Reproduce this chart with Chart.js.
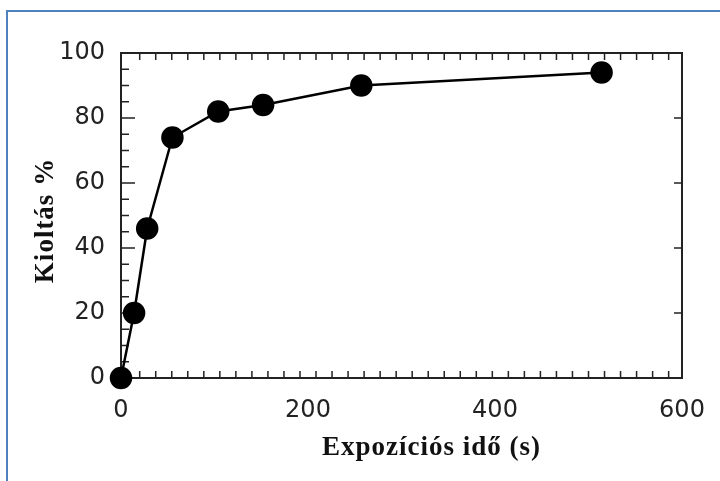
<!DOCTYPE html>
<html>
<head>
<meta charset="utf-8">
<script src="https://cdn.jsdelivr.net/npm/chart.js@4.4.1/dist/chart.umd.min.js"></script>
<style>
    html, body { margin: 0; padding: 0; background: #fff; overflow: hidden; }
    #frame {
        position: absolute; left: 6px; top: 10px; width: 800px; height: 600px;
        border-left: 2px solid #4f81bd; border-top: 2px solid #4f81bd;
    }
    #chart { position: absolute; left: 0; top: 0; }
</style>
</head>
<body>
<div id="frame"></div>
<canvas id="chart" width="720" height="481"></canvas>
<script>
// Data
var idok = [0, 14, 28, 55, 104, 152, 257, 514];      // Expozíciós idő (s)
var kioltas = [0, 20, 46, 74, 82, 84, 90, 94];       // Kioltás %
var xTicks = [0, 200, 400, 600];
var yTicks = [0, 20, 40, 60, 80, 100];

var xTitle = 'Expozíciós idő (s)';
var yTitle = 'Kioltás %';

var tickFont = { family: '"DejaVu Sans", sans-serif', size: 24 };
var tickColor = '#222';

// frame + inward tick marks, drawn through the scales
var frameTicks = {
    id: 'frameTicks',
    beforeDatasetsDraw: function (chart) {
        var ctx = chart.ctx, a = chart.chartArea;
        var xs = chart.scales.x, ys = chart.scales.y;
        ctx.save();
        ctx.strokeStyle = '#222';
        ctx.lineWidth = 1.5;
        ctx.beginPath();
        // bottom / top minor ticks
        for (var v = 20; v < 600; v += 600 / 35) {
            var px = xs.getPixelForValue(v);
            ctx.moveTo(px, a.bottom); ctx.lineTo(px, a.bottom - 7);
            ctx.moveTo(px, a.top); ctx.lineTo(px, a.top + 7);
        }
        // left ticks: minor every 5, major every 20
        for (var y = 5; y < 100; y += 5) {
            var py = ys.getPixelForValue(y);
            var len = (y % 20 === 0) ? 14 : 8;
            ctx.moveTo(a.left, py); ctx.lineTo(a.left + len, py);
            if (y % 20 === 0) {
                ctx.moveTo(a.right, py); ctx.lineTo(a.right - 8, py);
            }
        }
        ctx.stroke();
        ctx.lineWidth = 2;
        ctx.strokeRect(a.left, a.top, a.right - a.left, a.bottom - a.top);
        ctx.restore();
    },
    afterDraw: function (chart) {
        var ctx = chart.ctx, a = chart.chartArea;
        ctx.save();
        ctx.fillStyle = '#111';
        ctx.font = 'bold 27px "Liberation Serif", serif';
        ctx.letterSpacing = '1px';
        ctx.textAlign = 'center';
        ctx.textBaseline = 'alphabetic';
        ctx.fillText(xTitle, (a.left + a.right) / 2 + 30, a.bottom + 77);
        ctx.translate(53, (a.top + a.bottom) / 2 + 5);
        ctx.rotate(-Math.PI / 2);
        ctx.fillText(yTitle, 0, 0);
        ctx.restore();
    }
};

new Chart(document.getElementById('chart'), {
    type: 'scatter',
    data: {
        datasets: [{
            data: idok.map(function (t, i) { return { x: t, y: kioltas[i] }; }),
            showLine: true,
            borderColor: '#000',
            borderWidth: 2.5,
            pointRadius: 10,
            pointBackgroundColor: '#000',
            pointBorderColor: '#000',
            clip: false
        }]
    },
    options: {
        responsive: false,
        animation: false,
        layout: { padding: { left: 0, top: 53, right: 38, bottom: 0 } },
        plugins: { legend: { display: false }, tooltip: { enabled: false } },
        scales: {
            x: {
                type: 'linear', min: 0, max: 600,
                afterBuildTicks: function (s) { s.ticks = xTicks.map(function (v) { return { value: v }; }); },
                ticks: { font: tickFont, color: tickColor, padding: 10, maxRotation: 0 },
                grid: { display: false },
                border: { display: false },
                afterFit: function (s) { s.height = 103; }
            },
            y: {
                min: 0, max: 100,
                afterBuildTicks: function (s) { s.ticks = yTicks.map(function (v) { return { value: v }; }); },
                ticks: { font: tickFont, color: tickColor, padding: 8 },
                grid: { display: false },
                border: { display: false },
                afterFit: function (s) { s.width = 121; }
            }
        }
    },
    plugins: [frameTicks]
});
</script>
</body>
</html>
